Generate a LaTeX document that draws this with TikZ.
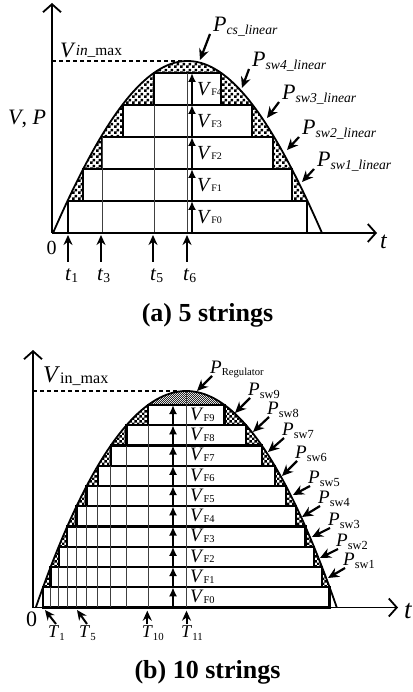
\documentclass[tikz,border=0pt]{standalone}
\usepackage{graphicx}
\usepackage{fontspec}
\setmainfont{Liberation Serif}
\usetikzlibrary{arrows.meta,patterns}

% checker fills for the switching losses
\pgfdeclarepatternformonly{checkA}{\pgfpointorigin}{\pgfqpoint{6pt}{6pt}}{\pgfqpoint{6pt}{6pt}}{%
  \pgfpathrectangle{\pgfpointorigin}{\pgfqpoint{3pt}{3pt}}%
  \pgfpathrectangle{\pgfqpoint{3pt}{3pt}}{\pgfqpoint{3pt}{3pt}}%
  \pgfusepath{fill}}
\pgfdeclarepatternformonly{checkB}{\pgfpointorigin}{\pgfqpoint{5.4pt}{5.4pt}}{\pgfqpoint{5.4pt}{5.4pt}}{%
  \pgfpathrectangle{\pgfpointorigin}{\pgfqpoint{2.7pt}{2.7pt}}%
  \pgfpathrectangle{\pgfqpoint{2.7pt}{2.7pt}}{\pgfqpoint{2.7pt}{2.7pt}}%
  \pgfusepath{fill}}
\pgfdeclarepatternformonly{checkC}{\pgfpointorigin}{\pgfqpoint{2.4pt}{2.4pt}}{\pgfqpoint{2.4pt}{2.4pt}}{%
  \pgfpathrectangle{\pgfpointorigin}{\pgfqpoint{1.2pt}{1.2pt}}%
  \pgfpathrectangle{\pgfqpoint{1.2pt}{1.2pt}}{\pgfqpoint{1.2pt}{1.2pt}}%
  \pgfusepath{fill}}

\newcommand{\fs}[1]{\fontsize{#1}{#1}\selectfont}
\newcommand{\lo}[3][-0.1em]{\raisebox{#1}{\scalebox{#2}{#3}}}

\begin{document}
\begin{tikzpicture}[x=1pt, y=-1pt,
  axis/.style={line width=1.8pt, -{Straight Barb[length=8pt,width=18pt]}},
  curve/.style={line width=1.8pt},
  box/.style={draw, line width=2.3pt, fill=white},
  thinln/.style={line width=0.8pt, black!75},
  vmax/.style={line width=1.2pt, dash pattern=on 4pt off 3pt},
  vf/.style={line width=2pt, -{Latex[length=9pt,width=8pt]}},
  parr/.style={line width=2.2pt, -{Stealth[length=11pt,width=10pt]}},
  tarr/.style={line width=2pt, -{Stealth[length=10pt,width=9pt]}},
  lab/.style={inner sep=0pt, anchor=base west},
  plabA/.style={lab, font=\fs{22}},
  vflabA/.style={lab, font=\fs{20}},
  tlabA/.style={lab, inner ysep=6pt, font=\fs{21}},
  plabB/.style={lab, font=\fs{19}},
  vflabB/.style={lab, font=\fs{19}},
  tlabB/.style={lab, inner ysep=1pt, font=\fs{18}},
  capt/.style={font=\fs{26}\bfseries}
]
\useasboundingbox (0,0) rectangle (412,692);

% (a) 5 strings
\coordinate (oa) at (52,233);
\draw[vmax] (52,61) -- (187,61);
\begin{scope}
  \clip (0,0) rectangle (412,201);
  \fill[pattern=checkA] plot[domain=-1:1,samples=81]
    ({187.5+134.5*\x},{233-86*(cos(90*(\x))+1-(\x)*(\x))}) -- cycle;
\end{scope}
\foreach \k/\l/\r in {0/68/307,1/83/292,2/102/273,3/123/252,4/154/221}{
  \draw[box] (\l,{201-32*\k}) rectangle (\r,{233-32*\k});
  \node[vflabA] (vfa\k) at (197,{224-32*\k}) {\textit{V}\lo[0em]{0.5}{F\k}};
}
\draw[thinln] (102,233) -- (102,137);
\draw[thinln] (154,233) -- (154,105);
\draw[thinln] (187,233) -- (187,73);
\foreach \k in {0,...,4}
  \draw[vf] (192,{233-32*\k}) -- (192,{201-32*\k});
\draw[curve] plot[domain=-1:1,samples=81]
  ({187.5+134.5*\x},{233-86*(cos(90*(\x))+1-(\x)*(\x))});
\draw[axis] (oa) -- (52,3);
\draw[axis] (oa) -- (377,233);

\node[font=\fs{20}] (za) at (51.7,248.3) {0};
\node[lab, font=\fs{24}] (ta) at (380,248) {\textit{t}};
\node[lab, font=\fs{22}] (vpa) at (8,125) {\textit{V}, \textit{P}};
\node[lab, font=\fs{22}] (vina) at (60,58) {\textit{V}\lo[0.12em]{0.7}{\textit{in}\_max}};

\node[plabA] (pcs) at (213,32) {\textit{P}\lo{0.62}{\textit{cs\_linear}}};
\node[plabA] (psa4) at (252,67) {\textit{P}\lo{0.62}{\textit{sw4\_linear}}};
\node[plabA] (psa3) at (282,100) {\textit{P}\lo{0.62}{\textit{sw3\_linear}}};
\node[plabA] (psa2) at (302,135) {\textit{P}\lo{0.62}{\textit{sw2\_linear}}};
\node[plabA] (psa1) at (317,167) {\textit{P}\lo{0.62}{\textit{sw1\_linear}}};
\coordinate (cs) at (200,60);
\coordinate (sa4) at (242,88);
\coordinate (sa3) at (267,118);
\coordinate (sa2) at (287,150);
\coordinate (sa1) at (302,182);
\draw[parr] ([shift={(-3pt,-2pt)}]pcs.base west) -- (cs);
\draw[parr] ([shift={(-3pt,-2pt)}]psa4.base west) -- (sa4);
\draw[parr] ([shift={(-3pt,-2pt)}]psa3.base west) -- (sa3);
\draw[parr] ([shift={(-3pt,-2pt)}]psa2.base west) -- (sa2);
\draw[parr] ([shift={(-3pt,-2pt)}]psa1.base west) -- (sa1);

\coordinate (ha1) at (68,235);
\coordinate (ha3) at (101,235);
\coordinate (ha5) at (153,235);
\coordinate (ha6) at (187,235);
\node[tlabA] (t1) at (65,280) {\textit{t}\lo[-0.1em]{0.65}{1}};
\node[tlabA] (t3) at (97,280) {\textit{t}\lo[-0.1em]{0.65}{3}};
\node[tlabA] (t5) at (150,280) {\textit{t}\lo[-0.1em]{0.65}{5}};
\node[tlabA] (t6) at (183,280) {\textit{t}\lo[-0.1em]{0.65}{6}};
\draw[tarr] (t1.north -| ha1) -- (ha1);
\draw[tarr] (t3.north -| ha3) -- (ha3);
\draw[tarr] (t5.north -| ha5) -- (ha5);
\draw[tarr] (t6.north -| ha6) -- (ha6);

\node[capt] (capa) at (207.5,315) {(a) 5 strings};

% (b) 10 strings
\coordinate (ob) at (33,607.5);
\draw[vmax] (33,391) -- (177,391);
\begin{scope}
  \clip (0,405) rectangle (412,587.25);
  \fill[pattern=checkB] plot[domain=-1:1,samples=81]
    ({186.3+150.5*\x},{607.5-216.5*(1-(\x)*(\x))}) -- cycle;
\end{scope}
\begin{scope}
  \clip (0,350) rectangle (412,405);
  \fill[pattern=checkC, pattern color=black!85] plot[domain=-1:1,samples=81]
    ({186.3+150.5*\x},{607.5-216.5*(1-(\x)*(\x))}) -- cycle;
\end{scope}
\foreach \k in {0,...,9}{
  \pgfmathsetmacro{\hw}{150.5*sqrt(1-20.25*(\k+1)/216.5)}
  \pgfmathsetmacro{\yb}{607.5-20.25*\k}
  \draw[box] ({186.3-\hw},{\yb-20.25}) rectangle ({186.3+\hw},\yb);
  \draw[thinln] ({186.3-\hw},607.5) -- ({186.3-\hw},\yb);
  \node[vflabB] (vfb\k) at (190,{\yb-5}) {\textit{V}\lo[-0.05em]{0.55}{F\k}};
}
\draw[thinln] (186.3,607.5) -- (186.3,391);
\foreach \k in {0,...,9}
  \draw[vf] (173,{607.5-20.25*\k}) -- (173,{587.25-20.25*\k});
\draw[curve] plot[domain=-1:1,samples=81]
  ({186.3+150.5*\x},{607.5-216.5*(1-(\x)*(\x))});
\draw[axis] (ob) -- (33,350);
\draw[axis] (ob) -- (398,607.5);

\node[font=\fs{22}] (zb) at (31.7,619) {0};
\node[lab, font=\fs{27}] (tb) at (404,618) {\textit{t}};
\node[lab, font=\fs{24}] (vinb) at (43,382) {\textit{V}\lo[-0.07em]{0.67}{in\_max}};

\node[plabB] (preg) at (210,373) {\textit{P}\lo[-0.12em]{0.56}{Regulator}};
\coordinate (rg) at (197,391);
\draw[parr] ([shift={(2pt,-3pt)}]preg.base west) -- (rg);
\foreach \k/\px/\py/\hx/\hy in {9/248/395/235/413, 8/267/414/253/432,
    7/282/435/268/452, 6/295/458/282/476, 5/308/483/293/495,
    4/318/503/302/517, 3/328/525/312/537, 2/336/546/320/558, 1/343/565/328/578}{
  \node[plabB] (psb\k) at (\px,\py) {\textit{P}\lo[-0.17em]{0.65}{sw\k}};
  \coordinate (sb\k) at (\hx,\hy);
  \draw[parr] ([shift={(2pt,-3pt)}]psb\k.base west) -- (sb\k);
}

\coordinate (hb1) at (45,610);
\coordinate (hb5) at (77,610);
\coordinate (hb10) at (147.3,610.7);
\coordinate (hb11) at (186.5,610.7);
\node[tlabB] (T1) at (48,637) {\textit{T}\lo[-0.17em]{0.6}{1}};
\node[tlabB] (T5) at (79,637) {\textit{T}\lo[-0.17em]{0.6}{5}};
\node[tlabB] (T10) at (141.7,637) {\textit{T}\lo[-0.17em]{0.6}{10}};
\node[tlabB] (T11) at (181,637) {\textit{T}\lo[-0.17em]{0.6}{11}};
\draw[tarr] ([xshift=8pt]T1.north west) -- (hb1);
\draw[tarr] ([xshift=8pt]T5.north west) -- (hb5);
\draw[tarr] (T10.north -| hb10) -- (hb10);
\draw[tarr] (T11.north -| hb11) -- (hb11);

\node[capt] (capb) at (207.5,672) {(b) 10 strings};
\end{tikzpicture}
\end{document}
